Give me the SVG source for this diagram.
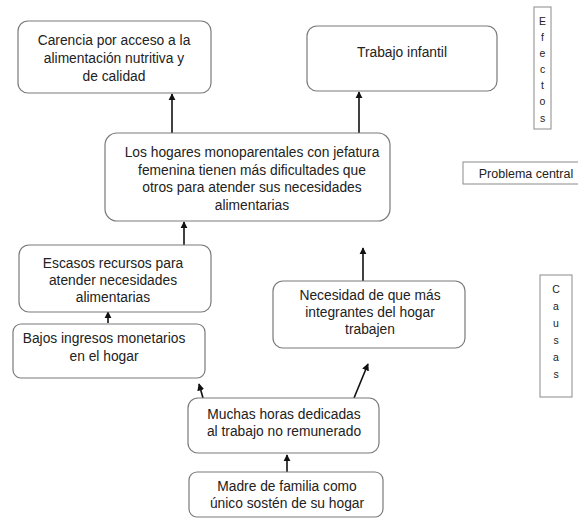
<svg xmlns="http://www.w3.org/2000/svg" width="578" height="519" viewBox="0 0 578 519">
<style>
.box{fill:#fff;stroke:#7a7a7a;stroke-width:1.2}
.lab{fill:#fff;stroke:#8a8a8a;stroke-width:1}
text{font-family:"Liberation Sans",Arial,sans-serif;font-size:13.8px;fill:#222;text-anchor:middle}
.sm{font-size:10.5px}
.pc{font-size:12.5px}
.conn{stroke:#111;stroke-width:1.6;fill:none;marker-end:url(#ah)}
</style>
<defs>
<marker id="ah" viewBox="0 0 10 10" refX="9" refY="5" markerWidth="4.5" markerHeight="4.5" orient="auto" markerUnits="strokeWidth">
<path d="M0,0 L10,5 L0,10 z" fill="#111"/>
</marker>
</defs>
<rect width="578" height="519" fill="#fff"/>
<g id="connectors">
<line class="conn" x1="172" y1="133" x2="172" y2="94"/>
<line class="conn" x1="359" y1="133" x2="359" y2="92"/>
<line class="conn" x1="184" y1="245" x2="184" y2="222"/>
<line class="conn" x1="108" y1="323" x2="108" y2="312"/>
<line class="conn" x1="363" y1="281" x2="363" y2="248"/>
<line class="conn" x1="354" y1="398" x2="368" y2="364"/>
<line class="conn" x1="203" y1="398" x2="199" y2="384"/>
<line class="conn" x1="287" y1="472" x2="287" y2="455"/>
</g>
<g id="n-carencia">
<rect class="box" x="18" y="21" width="193" height="72" rx="10"/>
<text x="114" y="45">Carencia por acceso a la</text>
<text x="114" y="63">alimentación nutritiva y</text>
<text x="114" y="81">de calidad</text>
</g>
<g id="n-trabajo">
<rect class="box" x="307" y="26" width="190" height="65" rx="10"/>
<text x="402" y="57">Trabajo infantil</text>
</g>
<g id="n-efectos">
<rect class="lab" x="534" y="7" width="17" height="122"/>
<text class="sm" x="542.5" y="25">E</text>
<text class="sm" x="542.5" y="41">f</text>
<text class="sm" x="542.5" y="57">e</text>
<text class="sm" x="542.5" y="73">c</text>
<text class="sm" x="542.5" y="89">t</text>
<text class="sm" x="542.5" y="105">o</text>
<text class="sm" x="542.5" y="122">s</text>
</g>
<g id="n-central">
<rect class="box" x="105" y="133" width="285" height="88" rx="12"/>
<text x="252" y="157">Los hogares monoparentales con jefatura</text>
<text x="252" y="175">femenina tienen más dificultades que</text>
<text x="252" y="192">otros para atender sus necesidades</text>
<text x="252" y="210">alimentarias</text>
</g>
<g id="n-problema">
<rect class="lab" x="463" y="162" width="120" height="22"/>
<text class="pc" x="526" y="177.5">Problema central</text>
</g>
<g id="n-escasos">
<rect class="box" x="19" y="245" width="192" height="67" rx="10"/>
<text x="113" y="268">Escasos recursos para</text>
<text x="113" y="285">atender necesidades</text>
<text x="113" y="302">alimentarias</text>
</g>
<g id="n-bajos">
<rect class="box" x="13" y="324" width="192" height="54" rx="8"/>
<text x="104" y="343">Bajos ingresos monetarios</text>
<text x="104" y="361">en el hogar</text>
</g>
<g id="n-necesidad">
<rect class="box" x="273" y="281" width="192" height="67" rx="10"/>
<text x="370" y="300">Necesidad de que más</text>
<text x="370" y="317">integrantes del hogar</text>
<text x="370" y="334">trabajen</text>
</g>
<g id="n-causas">
<rect class="lab" x="540" y="275" width="32" height="122"/>
<text class="sm" x="556" y="293">C</text>
<text class="sm" x="556" y="310">a</text>
<text class="sm" x="556" y="327">u</text>
<text class="sm" x="556" y="344">s</text>
<text class="sm" x="556" y="361">a</text>
<text class="sm" x="556" y="378">s</text>
</g>
<g id="n-muchas">
<rect class="box" x="188" y="398" width="191" height="55" rx="10"/>
<text x="284" y="419">Muchas horas dedicadas</text>
<text x="284" y="436">al trabajo no remunerado</text>
</g>
<g id="n-madre">
<rect class="box" x="189" y="472" width="194" height="45" rx="8"/>
<text x="287" y="491">Madre de familia como</text>
<text x="287" y="508">único sostén de su hogar</text>
</g>
</svg>
